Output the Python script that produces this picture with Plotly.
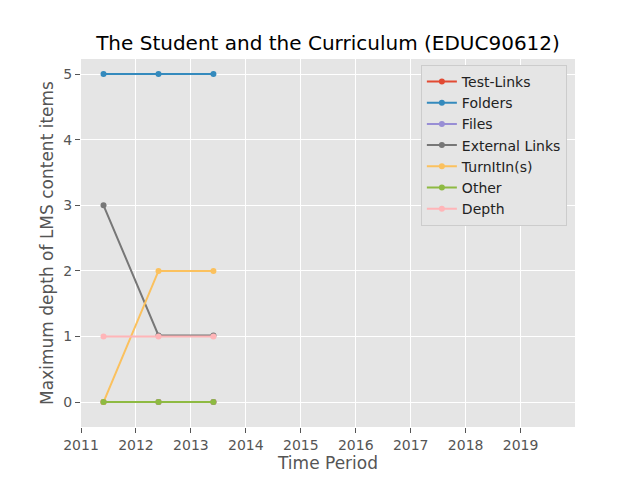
import plotly.graph_objects as go

# time periods (fractional years) and the max depth per item type
periods = [2011.41, 2012.41, 2013.41]
test_links = [0, 0, 0]
folders = [5, 5, 5]
files = [0, 0, 0]
external_links = [3, 1.015, 1.015]
turnitins = [0, 2, 2]
other = [0, 0, 0]
depth = [1, 1, 1]

series_names = ["Test-Links", "Folders", "Files", "External Links", "TurnItIn(s)", "Other", "Depth"]
series_values = [test_links, folders, files, external_links, turnitins, other, depth]
colours = ["#E24A33", "#348ABD", "#988ED5", "#777777", "#FBC15E", "#8EBA42", "#FFB5B8"]

fig = go.Figure()
for name, vals, col in zip(series_names, series_values, colours):
    fig.add_trace(go.Scatter(x=periods, y=vals, mode="lines+markers", name=name,
                             line=dict(color=col, width=2),
                             marker=dict(color=col, size=6)))

# page body adds an 8px offset, so margins are shifted to compensate
fig.update_layout(
    width=640, height=480,
    paper_bgcolor="white", plot_bgcolor="#E5E5E5",
    margin=dict(l=73, r=73, t=51, b=61),
    font=dict(family="DejaVu Sans", size=14, color="#555555"),
    title=dict(text="The Student and the Curriculum (EDUC90612)", x=0.5, xanchor="center",
               y=1 - 35/480, yanchor="middle", font=dict(size=20, color="black")),
    legend=dict(x=0.688, y=0.984, xanchor="left", yanchor="top",
                bgcolor="#E5E5E5", bordercolor="#CCCCCC", borderwidth=1,
                font=dict(size=14, color="#222222"), tracegroupgap=0),
    showlegend=True,
)
fig.update_xaxes(range=[2011, 2019.99], tickvals=list(range(2011, 2020)),
                 showgrid=True, gridcolor="white", gridwidth=1, zeroline=False,
                 ticks="outside", ticklen=5, tickcolor="#555555", automargin=False,
                 title=dict(text="Time Period", font=dict(size=17), standoff=2))
fig.update_yaxes(range=[-0.38, 5.23], tickvals=[0, 1, 2, 3, 4, 5],
                 showgrid=True, gridcolor="white", gridwidth=1, zeroline=False,
                 ticks="outside", ticklen=5, tickcolor="#555555", automargin=False,
                 title=dict(text="Maximum depth of LMS content items", font=dict(size=17), standoff=5))

fig.write_html("out.html")
